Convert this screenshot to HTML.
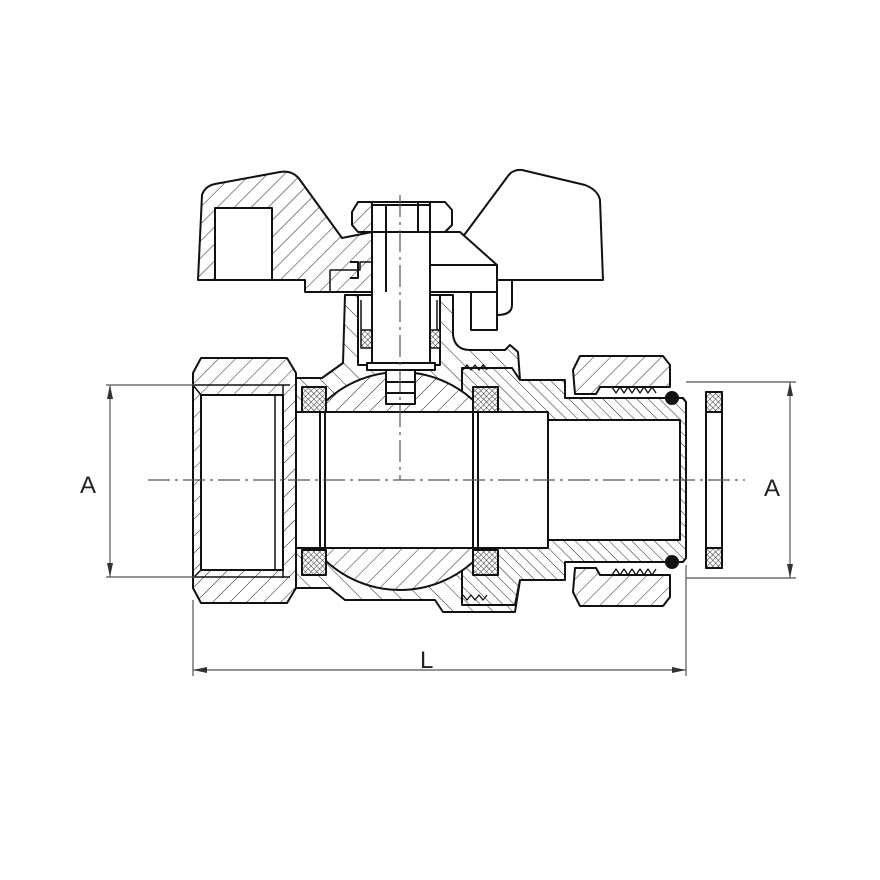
<!DOCTYPE html>
<html><head><meta charset="utf-8"><style>html,body{margin:0;padding:0;background:#fff}svg{display:block}</style></head>
<body>
<svg width="880" height="880" viewBox="0 0 880 880" xmlns="http://www.w3.org/2000/svg">
<defs>
<pattern id="h1" width="12" height="12" patternUnits="userSpaceOnUse" patternTransform="rotate(45)"><rect width="12" height="12" fill="#fff"/><line x1="0" y1="0" x2="0" y2="12" stroke="#222" stroke-width="1"/></pattern>
<pattern id="h2" width="8" height="8" patternUnits="userSpaceOnUse" patternTransform="rotate(-45)"><rect width="8" height="8" fill="#fff"/><line x1="0" y1="0" x2="0" y2="8" stroke="#222" stroke-width="1"/></pattern>
<pattern id="h3" width="14" height="14" patternUnits="userSpaceOnUse" patternTransform="rotate(-45)"><rect width="14" height="14" fill="#fff"/><line x1="0" y1="0" x2="0" y2="14" stroke="#222" stroke-width="1"/></pattern>
<pattern id="x" width="4" height="4" patternUnits="userSpaceOnUse" patternTransform="rotate(45)"><rect width="4" height="4" fill="#fff"/><path d="M0 0V4M0 0H4" stroke="#333" stroke-width="1"/></pattern>
<clipPath id="ballclip"><rect x="326" y="360" width="146" height="240"/></clipPath>
</defs>
<g stroke="#111" stroke-width="2" fill="none" stroke-linejoin="round">
<!-- body -->
<path d="M296,378 L322,378 L343,363 L345,295 L453,295 L453,335 Q455,350 470,350 L505,350 L510,345 L518,352 L520,380 L520,580 L515,612 L443,612 L435,600 L345,600 L330,588 L296,588 Z" fill="url(#h3)"/>
<!-- insert -->
<path d="M462,368 L512,368 L520,380 L565,380 L565,398 L683,398 L686,402 L686,558 L683,562 L565,562 L565,580 L520,580 L515,605 L462,605 Z" fill="url(#h2)"/>
<!-- neck interior -->
<rect x="358" y="295" width="82" height="70" fill="#fff"/>
<rect x="361" y="330" width="11" height="18" fill="url(#x)" stroke-width="1.5"/>
<rect x="430" y="330" width="10" height="18" fill="url(#x)" stroke-width="1.5"/>
<path d="M361,300 V330 M437,300 V330" stroke-width="1.5"/>
<!-- stop piece -->
<rect x="471" y="292" width="26" height="38" fill="#fff"/>
<path d="M512,280 V305 Q512,315 497,315"/>
<!-- bore -->
<rect x="283" y="412" width="265" height="136" fill="#fff"/>
<rect x="548" y="420" width="132" height="120" fill="#fff"/>
<!-- ball -->
<g clip-path="url(#ballclip)"><circle cx="400" cy="481" r="109" fill="url(#h1)" stroke="#111" stroke-width="2"/></g>
<rect x="326" y="412" width="146" height="136" fill="#fff" stroke="none"/>
<path d="M326,412 H472 M326,548 H472 M283,412 H548 M283,548 H548 M548,412 V548 M548,420 H680 M548,540 H680 M680,420 V540 M325,388 V575 M320,388 V575 M473,388 V575 M478,388 V575"/>
<!-- stem tang -->
<rect x="386" y="370" width="29" height="34" fill="#fff"/>
<path d="M386,382 H415 M386,393 H415"/>
<rect x="367" y="363" width="68" height="7" fill="#fff"/>
<!-- seats -->
<rect x="302" y="387" width="24" height="25" fill="url(#x)"/>
<rect x="302" y="550" width="24" height="25" fill="url(#x)"/>
<rect x="473" y="387" width="25" height="25" fill="url(#x)"/>
<rect x="473" y="550" width="25" height="25" fill="url(#x)"/>
<!-- left nut -->
<path d="M193,373 L201,358 L287,358 L296,373 L296,588 L287,603 L201,603 L193,588 Z" fill="url(#h1)"/>
<rect x="201" y="395" width="82" height="175" fill="#fff"/>
<path d="M275,395 V570 M283,385 V578 M193,385 H290 M193,577 H290" stroke-width="1.5"/>
<path d="M201,395 L193,385 M201,570 L193,578" stroke-width="1.5"/>
<!-- union nut -->
<path d="M573,370 L580,356 L663,356 L670,365 L670,387 L600,387 L596,394 L575,394 Z" fill="url(#h1)"/>
<path d="M573,592 L580,606 L663,606 L670,597 L670,575 L600,575 L596,568 L575,568 Z" fill="url(#h1)"/>
<path d="M612,387 l4,6 4,-6 4,6 4,-6 4,6 4,-6 4,6 4,-6 4,6 4,-6 4,6 M612,575 l4,-6 4,6 4,-6 4,6 4,-6 4,6 4,-6 4,6 4,-6 4,6 4,-6" stroke-width="1.3"/>
<path d="M463,370 l4,-5 4,5 4,-5 4,5 4,-5 4,5 M463,595 l4,5 4,-5 4,5 4,-5 4,5 4,-5" stroke-width="1.3"/>
<circle cx="672" cy="398" r="6" fill="#111"/>
<circle cx="672" cy="562" r="6" fill="#111"/>
<!-- gasket -->
<rect x="706" y="392" width="16" height="176" fill="#fff"/>
<rect x="706" y="392" width="16" height="20" fill="url(#x)"/>
<rect x="706" y="548" width="16" height="20" fill="url(#x)"/>
<!-- handle left wing -->
<path d="M198,280 L202,195 Q205,186 215,184 L280,172 Q293,170 300,180 L342,238 L372,232 L372,292 L305,292 L305,280 Z" fill="url(#h1)"/>
<rect x="215" y="208" width="57" height="72" fill="#fff"/>
<!-- right wing -->
<path d="M462,238 L508,176 Q513,169 522,170 L585,185 Q598,190 600,200 L603,280 L497,280" fill="#fff"/>
<!-- plate -->
<path d="M400,232 L460,232 L497,265 L497,292 L372,292 L372,265 L400,265 Z" fill="#fff"/>
<path d="M400,265 H497" />
<path d="M330,270 H360 V262 H372 M330,270 V292" stroke-width="1.5"/>
<path d="M350,262 L358,262 L358,278 L350,278"/>
<!-- stem -->
<rect x="372" y="205" width="58" height="158" fill="#fff"/>
<path d="M386,205 V292" />
<!-- nut -->
<path d="M352,212 L358,202 L372,202 L372,232 L358,232 L352,225 Z" fill="url(#h1)"/>
<path d="M372,202 H445 L452,210 L452,225 L445,232 H372 M418,202 V232 M430,202 V232"/>
</g>
<!-- centerlines -->
<g stroke="#555" stroke-width="1.2" fill="none" stroke-dasharray="22,5,3,5">
<path d="M148,480 H745"/>
<path d="M400,195 V480"/>
</g>
<!-- dimensions -->
<g stroke="#555" stroke-width="1.2" fill="none">
<path d="M106,385 H195 M106,577 H195 M110,385 V577"/>
<path d="M686,382 H796 M686,578 H796 M790,382 V578"/>
<path d="M193,600 V676 M686,565 V676 M193,670 H686"/>
</g>
<g fill="#333">
<path d="M110,385 l-3,14 h6z M110,577 l-3,-14 h6z"/>
<path d="M790,382 l-3,14 h6z M790,578 l-3,-14 h6z"/>
<path d="M193,670 l14,-3 v6z M686,670 l-14,-3 v6z"/>
</g>
<g font-family="Liberation Sans, sans-serif" font-size="24" fill="#222">
<text x="80" y="493">A</text>
<text x="764" y="496">A</text>
<text x="420" y="668">L</text>
</g>
</svg>
</body></html>
